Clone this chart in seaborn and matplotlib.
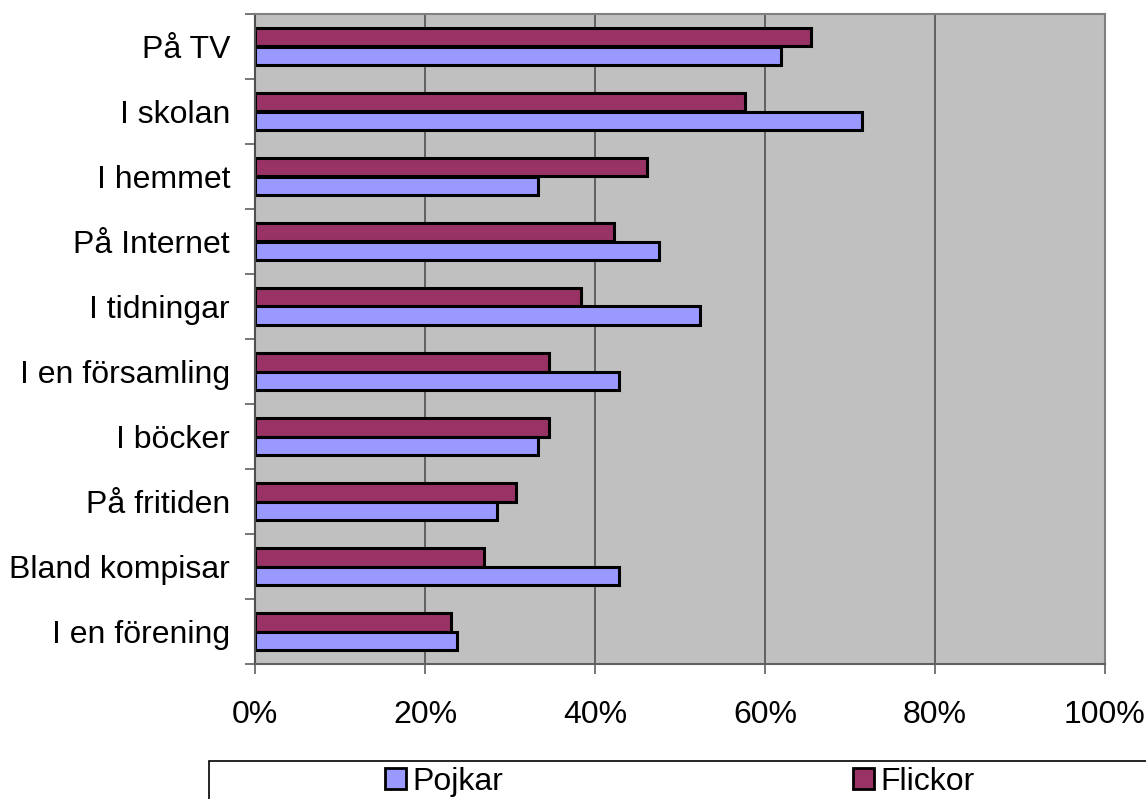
import matplotlib
matplotlib.use("Agg")
import matplotlib.pyplot as plt
import matplotlib.patches as mpatches
import seaborn as sns
import pandas as pd
import numpy as np

categories = ["På TV", "I skolan", "I hemmet", "På Internet", "I tidningar",
              "I en församling", "I böcker", "På fritiden", "Bland kompisar", "I en förening"]
flickor = [65.4, 57.6, 46.1, 42.2, 38.4, 34.6, 34.6, 30.7, 26.9, 23.1]
pojkar = [61.9, 71.4, 33.3, 47.5, 52.4, 42.8, 33.3, 28.5, 42.8, 23.8]
series = ["Flickor", "Pojkar"]
xticks = [0, 20, 40, 60, 80, 100]
xticklabels = ["0%", "20%", "40%", "60%", "80%", "100%"]

df = pd.DataFrame({
    "Kategori": categories * 2,
    "Värde": flickor + pojkar,
    "Kön": ["Flickor"] * len(categories) + ["Pojkar"] * len(categories),
})

sns.set_theme(style="white")
plt.rcParams["font.family"] = ["Liberation Sans", "DejaVu Sans"]
plt.rcParams["text.color"] = "black"
plt.rcParams["xtick.color"] = "black"
plt.rcParams["ytick.color"] = "black"

FS = 23
W, H = 1146, 799
fig = plt.figure(figsize=(W / 100, H / 100), dpi=100)
ax = fig.add_axes([255 / W, 1 - 664 / H, (1105 - 255) / W, (664 - 14) / H])
ax.set_facecolor("#C0C0C0")

palette = {"Flickor": "#993366", "Pojkar": "#9999FF"}
sns.barplot(data=df, x="Värde", y="Kategori", hue="Kön", hue_order=series,
            order=categories, palette=palette, orient="h", width=0.56,
            edgecolor="black", linewidth=2.2, saturation=1, ax=ax, legend=True)

ax.set_xlim(0, 100)
ax.set_ylim(len(categories) - 0.5, -0.5)
ax.set_xticks(xticks)
ax.set_xticklabels(xticklabels, fontsize=FS, color="black")
ax.set_xlabel("")
ax.set_ylabel("")
ax.tick_params(axis="x", which="major", length=7, width=1.2, color="#606060",
               direction="out", pad=19, bottom=True, labelcolor="black")
ax.tick_params(axis="y", which="major", length=0, pad=18, labelsize=FS, labelcolor="black")
ax.set_yticks(np.arange(-0.5, len(categories), 1.0), minor=True)
ax.tick_params(axis="y", which="minor", length=7, width=1.2, color="#606060",
               direction="out", left=True)
for lab in ax.get_yticklabels():
    lab.set_fontsize(FS)
    lab.set_color("black")

ax.grid(axis="x", color="#505050", linewidth=1.2)
ax.grid(axis="y", visible=False)
ax.set_axisbelow(True)
for side, sp in ax.spines.items():
    sp.set_visible(True)
    sp.set_linewidth(1.5)
    sp.set_color("#808080")
ax.spines["left"].set_color("#505050")
ax.spines["bottom"].set_color("#606060")

handles, labels = ax.get_legend_handles_labels()
ax.get_legend().remove()

# legend frame
fig.patches.append(mpatches.Rectangle((209 / W, -0.05), 1.0, (799 - 761) / H + 0.05,
                                      transform=fig.transFigure, fill=False,
                                      edgecolor="black", linewidth=1.2))
for name, x0 in [("Pojkar", 385), ("Flickor", 853)]:
    h = mpatches.Patch(facecolor=palette[name], edgecolor="black", linewidth=2.0)
    fig.legend([h], [name], loc="center left",
               bbox_to_anchor=(x0 / W, 1 - 782 / H), frameon=False,
               fontsize=FS, handlelength=0.65, handleheight=0.65,
               handletextpad=0.2, borderpad=0, borderaxespad=0)

fig.savefig("out.png", dpi=100)
